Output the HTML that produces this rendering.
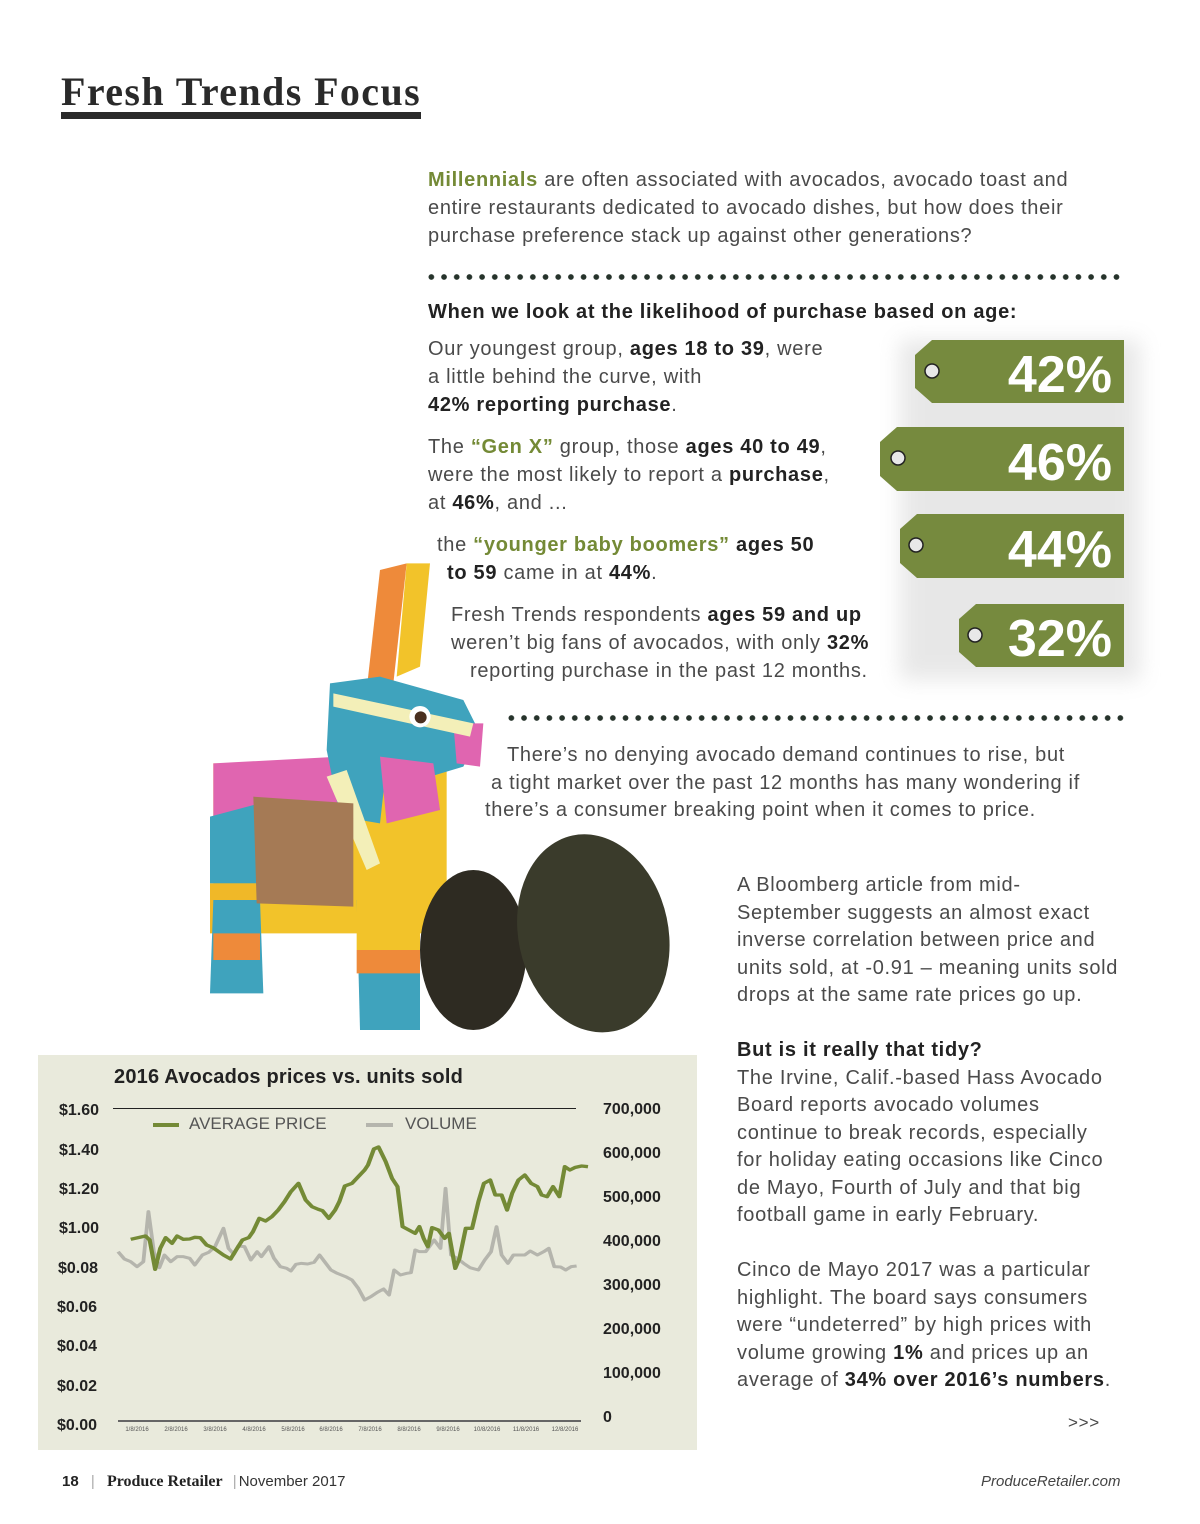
<!DOCTYPE html>
<html><head><meta charset="utf-8">
<style>
body{margin:0;background:#fff;}
#p{position:relative;width:1200px;height:1524px;overflow:hidden;background:#fff;font-family:"Liberation Sans",sans-serif;}
.l{position:absolute;white-space:nowrap;font-size:20px;color:#4a4a4a;line-height:24px;letter-spacing:0.7px;}
.l b{color:#222;}
.g{color:#748a36;font-weight:bold;}
.dots{position:absolute;height:6px;background-image:radial-gradient(circle,#26332b 2.6px,transparent 3px);background-size:12.7px 6px;background-repeat:repeat-x;}
.c{position:absolute;white-space:nowrap;font-family:"Liberation Sans",sans-serif;color:#222;}
.yl{font-weight:bold;font-size:16px;line-height:20px;}
.dt{font-size:6px;color:#555;line-height:8px;transform:translateX(-50%);}
</style></head><body><div id="p">

<div style="position:absolute;left:61px;top:68px;font-family:'Liberation Serif',serif;font-weight:bold;font-size:40px;color:#2a2a2a;line-height:48px;letter-spacing:1.4px;">Fresh Trends Focus</div>
<div style="position:absolute;left:61px;top:112px;width:360px;height:7px;background:#2a2a2a;"></div>

<div class="l" style="left:428px;top:168px"><span class="g">Millennials</span> are often associated with avocados, avocado toast and</div>
<div class="l" style="left:428px;top:196px">entire restaurants dedicated to avocado dishes, but how does their</div>
<div class="l" style="left:428px;top:224px">purchase preference stack up against other generations?</div>

<div class="dots" style="left:425px;top:274px;width:700px"></div>

<div class="l" style="left:428px;top:300px;font-weight:bold;color:#222">When we look at the likelihood of purchase based on age:</div>

<div class="l" style="left:428px;top:337px">Our youngest group, <b>ages 18 to 39</b>, were</div>
<div class="l" style="left:428px;top:365px">a little behind the curve, with</div>
<div class="l" style="left:428px;top:393px"><b>42% reporting purchase</b>.</div>

<div class="l" style="left:428px;top:435px">The <span class="g">“Gen X”</span> group, those <b>ages 40 to 49</b>,</div>
<div class="l" style="left:428px;top:463px">were the most likely to report a <b>purchase</b>,</div>
<div class="l" style="left:428px;top:491px">at <b>46%</b>, and ...</div>

<div class="l" style="left:437px;top:533px">the <span class="g">“younger baby boomers”</span> <b>ages 50</b></div>
<div class="l" style="left:447px;top:561px"><b>to 59</b> came in at <b>44%</b>.</div>

<div class="l" style="left:451px;top:603px">Fresh Trends respondents <b>ages 59 and up</b></div>
<div class="l" style="left:451px;top:631px">weren’t big fans of avocados, with only <b>32%</b></div>
<div class="l" style="left:470px;top:659px">reporting purchase in the past 12 months.</div>

<!-- tags -->
<svg style="position:absolute;left:0;top:0" width="1200" height="700">
<defs><filter id="sh" x="-20%" y="-40%" width="140%" height="180%"><feGaussianBlur stdDeviation="10"/></filter></defs>
<rect x="900" y="340" width="240" height="340" fill="#ccc" filter="url(#sh)" opacity="0.45"/>
<g fill="#768a3e">
<polygon points="932,340 1124,340 1124,403 932,403 915,388 915,355"/>
<polygon points="897,427 1124,427 1124,491 897,491 880,476 880,442"/>
<polygon points="917,514 1124,514 1124,578 917,578 900,563 900,529"/>
<polygon points="976,604 1124,604 1124,667 976,667 959,652 959,619"/>
</g>
<g fill="#e8e8e8" stroke="#222" stroke-width="1.5">
<circle cx="932" cy="371" r="7"/><circle cx="898" cy="458" r="7"/><circle cx="916" cy="545" r="7"/><circle cx="975" cy="635" r="7"/>
</g>
<g fill="#fff" font-family="Liberation Sans,sans-serif" font-weight="bold" font-size="52" text-anchor="end">
<text x="1112" y="392">42%</text><text x="1112" y="480">46%</text><text x="1112" y="567">44%</text><text x="1112" y="656">32%</text>
</g>
</svg>

<!-- pinata & avocados -->
<svg style="position:absolute;left:180px;top:550px" width="500" height="490" viewBox="0 0 1500 1470">
<polygon points="100,640 800,640 800,1150 100,1150" fill="#f2c32a"/>
<polygon points="100,640 480,620 480,760 100,800" fill="#e065b0"/>
<polygon points="90,800 240,760 240,1000 90,1000" fill="#3fa3bd"/>
<polygon points="90,1000 240,1000 240,1150 90,1150" fill="#f0b828"/>
<polygon points="100,1050 240,1050 250,1330 90,1330" fill="#3fa3bd"/>
<polygon points="100,1150 240,1150 240,1230 100,1230" fill="#ee8a3a"/>
<polygon points="530,1050 720,1050 720,1440 540,1440" fill="#3fa3bd"/>
<polygon points="530,1050 720,1050 720,1200 530,1200" fill="#f2c32a"/>
<polygon points="530,1200 720,1200 720,1270 530,1270" fill="#ee8a3a"/>
<polygon points="600,60 680,40 640,400 560,420" fill="#ee8a3a"/>
<polygon points="680,40 750,40 720,350 650,380" fill="#f2c32a"/>
<polygon points="450,400 600,380 850,450 900,550 850,650 750,680 620,640 600,820 480,800 440,600" fill="#3fa3bd"/>
<polygon points="600,620 760,640 780,780 620,820" fill="#e065b0"/>
<polygon points="820,520 910,520 900,650 830,640" fill="#e065b0"/>
<polygon points="460,430 880,520 870,560 460,470" fill="#f3efb8"/>
<polygon points="440,680 500,660 600,940 560,960" fill="#f3efb8"/>
<polygon points="220,740 520,760 520,1070 230,1060" fill="#a57a55"/>
<circle cx="720" cy="500" r="32" fill="#fff"/><circle cx="722" cy="502" r="18" fill="#4a3020"/>
<ellipse cx="880" cy="1200" rx="160" ry="240" fill="#2e2b22"/>
<ellipse cx="1240" cy="1150" rx="225" ry="300" transform="rotate(-12 1240 1150)" fill="#3a3b2b"/>
</svg>

<div class="dots" style="left:505px;top:715px;width:620px"></div>

<div class="l" style="left:507px;top:743px">There’s no denying avocado demand continues to rise, but</div>
<div class="l" style="left:491px;top:771px">a tight market over the past 12 months has many wondering if</div>
<div class="l" style="left:485px;top:798px">there’s a consumer breaking point when it comes to price.</div>

<div class="l" style="left:737px;top:873px">A Bloomberg article from mid-</div>
<div class="l" style="left:737px;top:901px">September suggests an almost exact</div>
<div class="l" style="left:737px;top:928px">inverse correlation between price and</div>
<div class="l" style="left:737px;top:956px">units sold, at -0.91 – meaning units sold</div>
<div class="l" style="left:737px;top:983px">drops at the same rate prices go up.</div>

<div class="l" style="left:737px;top:1038px;font-weight:bold;color:#222">But is it really that tidy?</div>
<div class="l" style="left:737px;top:1066px">The Irvine, Calif.-based Hass Avocado</div>
<div class="l" style="left:737px;top:1093px">Board reports avocado volumes</div>
<div class="l" style="left:737px;top:1121px">continue to break records, especially</div>
<div class="l" style="left:737px;top:1148px">for holiday eating occasions like Cinco</div>
<div class="l" style="left:737px;top:1176px">de Mayo, Fourth of July and that big</div>
<div class="l" style="left:737px;top:1203px">football game in early February.</div>

<div class="l" style="left:737px;top:1258px">Cinco de Mayo 2017 was a particular</div>
<div class="l" style="left:737px;top:1286px">highlight. The board says consumers</div>
<div class="l" style="left:737px;top:1313px">were “undeterred” by high prices with</div>
<div class="l" style="left:737px;top:1341px">volume growing <b>1%</b> and prices up an</div>
<div class="l" style="left:737px;top:1368px">average of <b>34% over 2016’s numbers</b>.</div>
<div class="l" style="left:1068px;top:1411px;font-size:17px">&gt;&gt;&gt;</div>

<!-- chart -->
<div style="position:absolute;left:38px;top:1055px;width:659px;height:395px;background:#e9eadc"></div>
<div class="c" style="left:114px;top:1064px;font-weight:bold;font-size:20px;line-height:26px;letter-spacing:0.2px">2016 Avocados prices vs. units sold</div>
<div style="position:absolute;left:113px;top:1108px;width:463px;height:1px;background:#222"></div>
<div style="position:absolute;left:118px;top:1420px;width:463px;height:2px;background:#666"></div>
<div class="c yl" style="left:59px;top:1101px">$1.60</div>
<div class="c yl" style="left:59px;top:1141px">$1.40</div>
<div class="c yl" style="left:59px;top:1180px">$1.20</div>
<div class="c yl" style="left:59px;top:1219px">$1.00</div>
<div class="c yl" style="left:58px;top:1259px">$0.08</div>
<div class="c yl" style="left:57px;top:1298px">$0.06</div>
<div class="c yl" style="left:57px;top:1337px">$0.04</div>
<div class="c yl" style="left:57px;top:1377px">$0.02</div>
<div class="c yl" style="left:57px;top:1416px">$0.00</div>
<div class="c yl" style="left:603px;top:1100px">700,000</div>
<div class="c yl" style="left:603px;top:1144px">600,000</div>
<div class="c yl" style="left:603px;top:1188px">500,000</div>
<div class="c yl" style="left:603px;top:1232px">400,000</div>
<div class="c yl" style="left:603px;top:1276px">300,000</div>
<div class="c yl" style="left:603px;top:1320px">200,000</div>
<div class="c yl" style="left:603px;top:1364px">100,000</div>
<div class="c yl" style="left:603px;top:1408px">0</div>
<div class="c dt" style="left:137px;top:1426px">1/8/2016</div>
<div class="c dt" style="left:176px;top:1426px">2/8/2016</div>
<div class="c dt" style="left:215px;top:1426px">3/8/2016</div>
<div class="c dt" style="left:254px;top:1426px">4/8/2016</div>
<div class="c dt" style="left:293px;top:1426px">5/8/2016</div>
<div class="c dt" style="left:331px;top:1426px">6/8/2016</div>
<div class="c dt" style="left:370px;top:1426px">7/8/2016</div>
<div class="c dt" style="left:409px;top:1426px">8/8/2016</div>
<div class="c dt" style="left:448px;top:1426px">9/8/2016</div>
<div class="c dt" style="left:487px;top:1426px">10/8/2016</div>
<div class="c dt" style="left:526px;top:1426px">11/8/2016</div>
<div class="c dt" style="left:565px;top:1426px">12/8/2016</div>
<div style="position:absolute;left:153px;top:1123px;width:26px;height:4px;background:#748a36"></div>
<div class="c" style="left:189px;top:1113px;font-size:17px;color:#555;line-height:22px">AVERAGE PRICE</div>
<div style="position:absolute;left:366px;top:1123px;width:27px;height:4px;background:#b5b5ad"></div>
<div class="c" style="left:405px;top:1113px;font-size:17px;color:#555;line-height:22px">VOLUME</div>
<svg style="position:absolute;left:38px;top:1055px" width="660" height="400" viewBox="0 0 1566 1200" preserveAspectRatio="none">
<polyline fill="none" stroke="#b5b5ad" stroke-width="9" stroke-linejoin="round" points="190,590 205,612 220,620 235,635 250,620 262,470 275,590 288,638 300,600 315,620 330,605 345,605 360,610 372,630 390,600 405,592 420,575 440,520 452,580 465,598 475,573 490,575 505,615 520,590 530,605 548,575 560,610 575,635 590,640 600,648 612,628 625,625 640,627 655,622 668,600 680,620 695,645 710,655 730,665 745,675 760,700 775,735 790,725 805,712 820,702 833,720 845,645 860,660 875,655 885,653 895,585 905,590 920,590 940,555 955,580 967,400 980,600 995,610 1010,625 1025,638 1045,645 1060,615 1075,590 1088,515 1100,600 1115,625 1128,600 1140,600 1155,600 1168,588 1185,600 1200,590 1212,580 1225,635 1240,636 1252,645 1265,635 1278,633"/>
<polyline fill="none" stroke="#748a36" stroke-width="10" stroke-linejoin="round" points="220,553 255,543 265,555 278,643 290,580 303,548 318,565 330,543 345,553 360,552 372,547 385,548 400,570 415,578 440,600 457,612 470,585 485,555 500,548 510,530 525,490 540,498 555,485 570,465 585,440 600,410 618,385 635,435 650,455 665,463 675,467 690,490 705,465 715,440 728,393 745,385 760,365 775,345 783,330 797,282 808,276 825,320 840,370 853,395 865,515 880,525 895,535 905,515 915,550 925,575 935,518 950,525 965,550 975,535 990,640 1000,610 1015,520 1030,520 1045,440 1058,385 1073,375 1085,420 1100,420 1113,465 1125,415 1140,375 1155,360 1170,385 1185,395 1195,420 1208,425 1222,395 1237,425 1250,335 1262,345 1275,337 1290,333 1305,335"/>
</svg>

<!-- footer -->
<div class="l" style="left:62px;top:1470px;font-size:15px;color:#333;letter-spacing:0"><b>18</b> <span style="color:#aaa;margin:0 8px">|</span> <span style="font-family:'Liberation Serif',serif;font-weight:bold;font-size:16px;color:#222">Produce Retailer</span> <span style="color:#aaa;margin:0 2px 0 6px">|</span>November 2017</div>
<div class="l" style="left:981px;top:1470px;font-size:15px;font-style:italic;color:#444;letter-spacing:0">ProduceRetailer.com</div>

</div></body></html>
